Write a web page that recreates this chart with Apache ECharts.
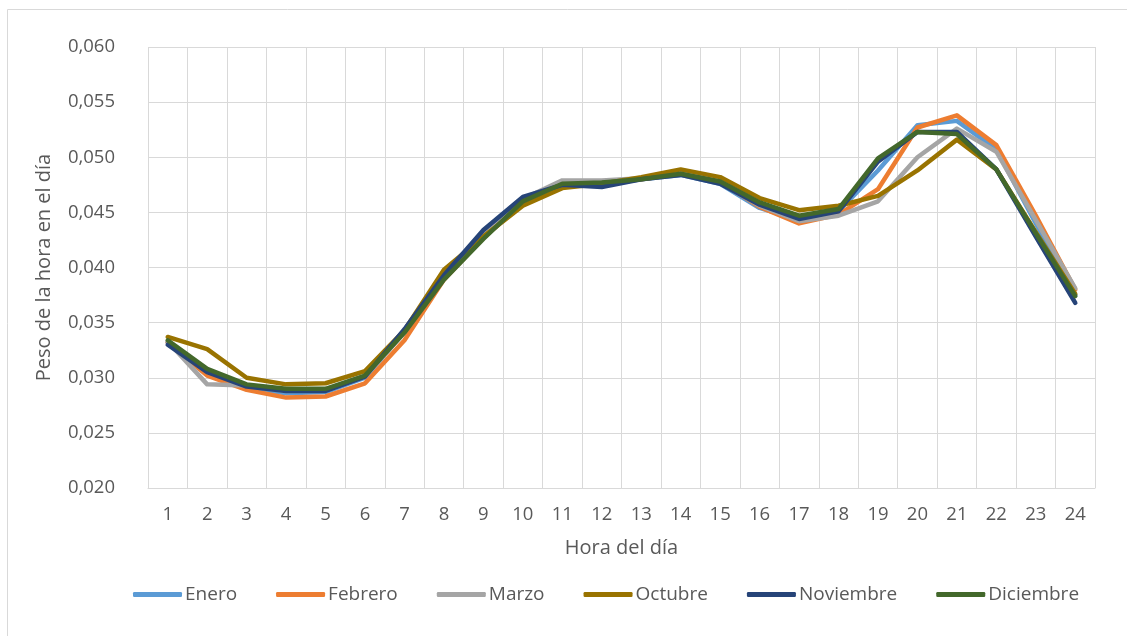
<!DOCTYPE html>
<html>
<head>
<meta charset="utf-8">
<script src="https://cdn.jsdelivr.net/npm/echarts@6/dist/echarts.min.js"></script>
<style>
html,body{margin:0;padding:0;background:#fff;}
#c{width:1127px;height:636px;}
</style>
</head>
<body>
<div id="c"></div>
<script>
const hours = ['1','2','3','4','5','6','7','8','9','10','11','12','13','14','15','16','17','18','19','20','21','22','23','24'];
const yTickLabels = {'0.020':'0,020','0.025':'0,025','0.030':'0,030','0.035':'0,035','0.040':'0,040','0.045':'0,045','0.050':'0,050','0.055':'0,055','0.060':'0,060'};
const seriesNames = ['Enero','Febrero','Marzo','Octubre','Noviembre','Diciembre'];
const enero     = [0.0332,0.0305,0.0291,0.0286,0.0287,0.0300,0.0342,0.0392,0.0430,0.0462,0.0476,0.0475,0.0480,0.0484,0.0476,0.0454,0.0443,0.0451,0.0488,0.0529,0.0533,0.0507,0.0440,0.0375];
const febrero   = [0.0332,0.0302,0.0289,0.0282,0.0283,0.0295,0.0334,0.0389,0.0427,0.0459,0.0475,0.0476,0.0480,0.0485,0.0478,0.0455,0.0440,0.0448,0.0471,0.0527,0.0538,0.0511,0.0447,0.0380];
const marzo     = [0.0333,0.0294,0.0293,0.0288,0.0289,0.0301,0.0341,0.0391,0.0430,0.0462,0.0479,0.0479,0.0481,0.0485,0.0477,0.0456,0.0442,0.0447,0.0460,0.0500,0.0526,0.0505,0.0443,0.0381];
const octubre   = [0.0337,0.0326,0.0300,0.0294,0.0295,0.0306,0.0343,0.0398,0.0428,0.0456,0.0472,0.0476,0.0482,0.0489,0.0482,0.0463,0.0452,0.0456,0.0465,0.0488,0.0516,0.0489,0.0432,0.0376];
const noviembre = [0.0330,0.0305,0.0292,0.0288,0.0288,0.0301,0.0344,0.0393,0.0434,0.0464,0.0475,0.0473,0.0480,0.0484,0.0476,0.0457,0.0444,0.0451,0.0496,0.0523,0.0523,0.0489,0.0428,0.0368];
const diciembre = [0.0334,0.0308,0.0294,0.0290,0.0290,0.0302,0.0341,0.0389,0.0426,0.0460,0.0476,0.0477,0.0480,0.0485,0.0478,0.0459,0.0447,0.0453,0.0499,0.0523,0.0521,0.0489,0.0431,0.0374];
const colors = ['#5B9BD5','#ED7D31','#A5A5A5','#997300','#264478','#43682B'];
const allData = [enero,febrero,marzo,octubre,noviembre,diciembre];

const FONT = '"Open Sans", sans-serif';
const TXT = '#595959';
const chart = echarts.init(document.getElementById('c'), null, {renderer:'canvas'});
chart.setOption({
  animation:false,
  color: colors,
  graphic:[{type:'rect', shape:{x:7.5,y:9.5,width:1130,height:640}, style:{fill:'none', stroke:'#d9d9d9', lineWidth:1}, silent:true, z:-1}],
  grid:{left:148, right:32, top:47, bottom:148, containLabel:false},
  legend:{
    data: seriesNames, bottom: 27, left:128,
    itemWidth:49, itemHeight:5, itemGap:39,
    icon:'roundRect',
    textStyle:{color:TXT, fontFamily:FONT, fontSize:19, padding:[0,0,0,-2]}
  },
  xAxis:{
    type:'category', data: hours, boundaryGap:true,
    name:'Hora del día', nameLocation:'middle', nameGap:50,
    nameTextStyle:{color:TXT, fontFamily:FONT, fontSize:20},
    axisLine:{show:true, lineStyle:{color:'#d9d9d9', width:1}},
    axisTick:{show:false},
    axisLabel:{color:TXT, fontFamily:FONT, fontSize:18.5, margin:17},
    splitLine:{show:true, lineStyle:{color:'#d9d9d9', width:1}}
  },
  yAxis:{
    type:'value', min:0.020, max:0.060, interval:0.005,
    name:'Peso de la hora en el día', nameLocation:'middle', nameGap:94,
    nameTextStyle:{color:TXT, fontFamily:FONT, fontSize:20},
    axisLine:{show:false}, axisTick:{show:false},
    axisLabel:{color:TXT, fontFamily:FONT, fontSize:18.5, margin:33,
      formatter: v => yTickLabels[v.toFixed(3)] || v.toFixed(3).replace('.',',')},
    splitLine:{show:true, lineStyle:{color:'#d9d9d9', width:1}}
  },
  series: seriesNames.map((n,i)=>({
    name:n, type:'line', data: allData[i], symbol:'none',
    lineStyle:{width:4.5, color:colors[i], cap:'round', join:'round'},
    itemStyle:{color:colors[i]}, z: 2+i
  }))
});
</script>
</body>
</html>
